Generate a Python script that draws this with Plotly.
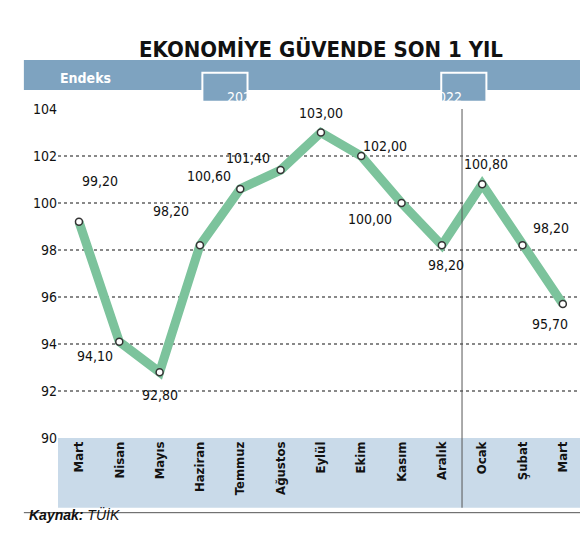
import plotly.graph_objects as go

months = ["Mart","Nisan","Mayıs","Haziran","Temmuz","Ağustos","Eylül","Ekim","Kasım","Aralık","Ocak","Şubat","Mart"]
values = [99.2,94.1,92.8,98.2,100.6,101.4,103.0,102.0,100.0,98.2,100.8,98.2,95.7]
labels = ["99,20","94,10","92,80","98,20","100,60","101,40","103,00","102,00","100,00","98,20","100,80","98,20","95,70"]
yticks = [90,92,94,96,98,100,102,104]
lab_dx = [21,-24,0,-29,-31,-33,0,24,-32,4,4,28,-13]
lab_dy = [41,-14,-23,34,13,12,20,10,-16,-20,20,17,-20]

x = list(range(len(months)))
NARROW = "DejaVu Sans Condensed, Liberation Sans Narrow, Roboto Condensed, sans-serif"
fig = go.Figure()
fig.add_trace(go.Scatter(x=x, y=values, mode="lines", line=dict(color="#7cc39c", width=9), hoverinfo="skip"))
fig.add_trace(go.Scatter(x=x, y=values, mode="markers",
                         marker=dict(color="white", size=7, line=dict(color="#333", width=1.5))))
for xi, v, t, dx, dy in zip(x, values, labels, lab_dx, lab_dy):
    fig.add_annotation(x=xi, y=v, text=t, showarrow=False, xshift=dx, yshift=dy,
                       font=dict(family=NARROW, size=14, color="#111"))

shapes = [
    dict(type="rect", xref="paper", yref="paper", x0=0, x1=1, y0=-0.212, y1=0,
         fillcolor="#c9dae9", line_width=0, layer="below"),
    dict(type="line", xref="x", yref="paper", x0=9.5, x1=9.5, y0=-0.212, y1=1.0,
         line=dict(color="#555", width=1)),
    dict(type="rect", xref="paper", yref="paper", x0=-0.065, x1=1, y0=1.058, y1=1.149,
         fillcolor="#7ea3c0", line_width=0, layer="above"),
    dict(type="line", xref="paper", yref="paper", x0=-0.065, x1=1, y0=-0.227, y1=-0.227,
         line=dict(color="#555", width=1)),
]
for cx in [0.318, 0.773]:
    shapes.append(dict(type="rect", xref="paper", yref="paper", x0=cx-0.043, x1=cx+0.043, y0=1.022, y1=1.11,
                       fillcolor="#7ea3c0", opacity=1, layer="above", line=dict(color="white", width=2)))
fig.update_layout(shapes=shapes)
for cx, t in [(0.318, "2021"), (0.773, "2022")]:
    fig.add_annotation(x=cx, y=1.066, xref="paper", yref="paper", text=t, showarrow=False,
                       font=dict(family=NARROW, size=14, color="white"))
fig.add_annotation(x=0.0, y=1.125, xref="paper", yref="paper", text="<b>Endeks</b>", showarrow=False,
                   xanchor="left", font=dict(family=NARROW, size=14, color="white"))
fig.add_annotation(x=0.5, y=1.225, xref="paper", yref="paper", text="<b>EKONOMİYE GÜVENDE SON 1 YIL</b>",
                   showarrow=False, font=dict(family=NARROW, size=22, color="#111"))
fig.add_annotation(x=-0.06, y=-0.265, xref="paper", yref="paper", xanchor="left",
                   text="<b><i>Kaynak:</i></b><i> TÜİK</i>", showarrow=False,
                   font=dict(family="Liberation Sans, Arial", size=14, color="#111"))

fig.update_xaxes(range=[-0.52, 12.5], tickvals=x, ticktext=["<b>%s</b>" % m for m in months],
                 tickangle=-90, showgrid=False, zeroline=False, showline=False,
                 tickfont=dict(family=NARROW, size=13, color="#111"), ticks="")
fig.update_yaxes(range=[90, 104], tickvals=yticks, showgrid=True, gridcolor="#888",
                 griddash="dot", gridwidth=1.5, zeroline=False,
                 tickfont=dict(family=NARROW, size=14, color="#111"), ticks="")
fig.update_layout(width=588, height=542, showlegend=False, plot_bgcolor="white", paper_bgcolor="white",
                  margin=dict(l=50, r=13, t=101, b=112))
fig.write_html("out.html")
